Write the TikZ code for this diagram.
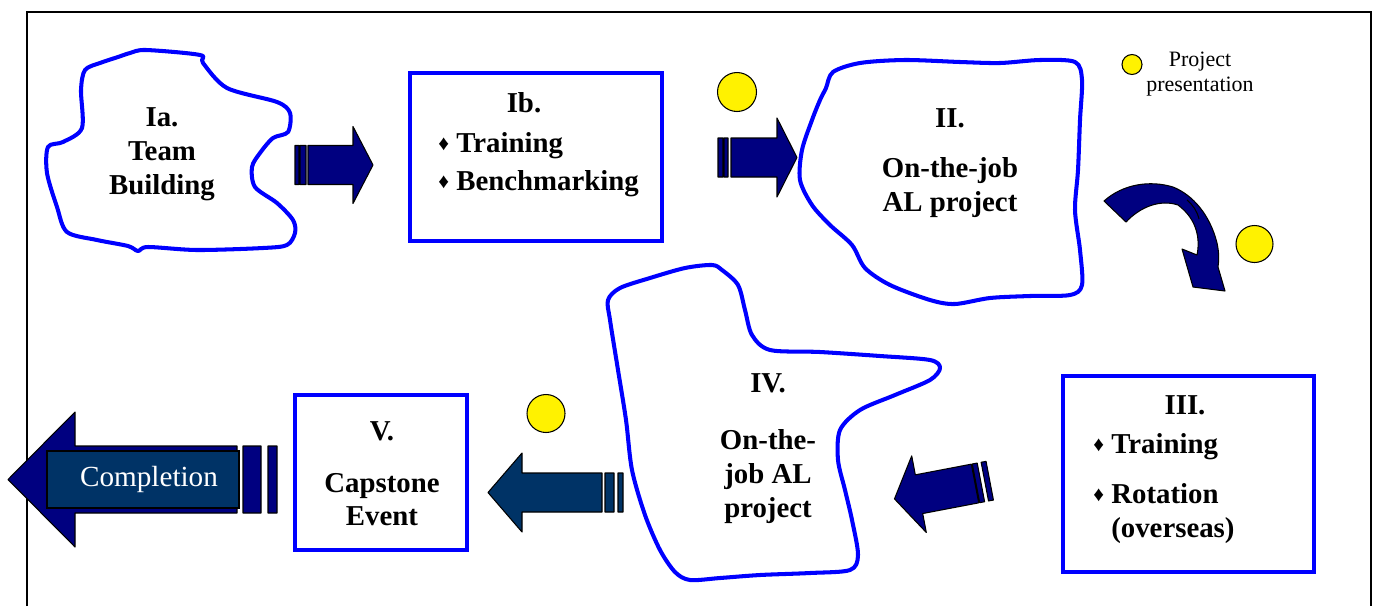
\documentclass[tikz,border=0pt]{standalone}
\usepackage{fontspec}
\setmainfont{Liberation Serif}
\usepackage{tikz}
\usetikzlibrary{calc, positioning, shapes}
\definecolor{navy}{RGB}{0,0,128}
\definecolor{slate}{RGB}{0,51,102}
\tikzstyle{Blob}=[draw=blue, line width=2.3pt, line join=round]
\tikzstyle{Box}=[rectangle, draw=blue, line width=2.3pt, inner sep=0pt]
\tikzstyle{Label}=[font=\bfseries\fontsize{16.4}{19.3}\selectfont, align=center, inner sep=0pt]
\tikzstyle{List}=[Label, align=left]
\tikzstyle{Dot}=[circle, draw, fill=yellow, line width=0.6pt, inner sep=0pt]
\tikzstyle{Arrow}=[draw, line width=0.6pt, line join=round]
\newcommand{\bul}{{\fontsize{12}{12}\selectfont\raisebox{1pt}{♦}} }
\newcommand{\stripedarrow}[9]{%
	\path[Arrow, fill=#9] (-#8,-#2) rectangle (-#7,#2) (-#6,-#2) rectangle (-#5,#2)
	(0,-#2) -- (#1,-#2) -- (#1,-#3) -- ({#1+#4},0) -- (#1,#3) -- (#1,#2) -- (0,#2) -- cycle;}

\begin{document}
\begin{tikzpicture}[x=0.02cm, y=-0.02cm]
		\useasboundingbox (0,0) rectangle (1375,606);
		\draw[line width=1.2pt] (27,606) -- (27,12) -- (1371,12) -- (1371,606);
		\draw[Blob] plot[smooth cycle, tension=0.5] coordinates {(146,50) (200,55) (203,63) (227,88) (277,102) (290,113) (288,132) (273,138) (260,153) (252,167) (255,187) (277,203) (293,220) (295,233) (287,245) (263,248) (197,250) (148,247) (138,251) (128,246) (97,240) (67,232) (57,207) (47,173) (48,147) (63,142) (82,128) (81,90) (85,70) (100,63) (118,57) (130,53)};
		\draw[Blob] plot[smooth cycle, tension=0.5] coordinates {(833,72) (860,63) (905,60) (960,62) (1000,63) (1040,60) (1075,62) (1082,80) (1080,120) (1078,170) (1075,210) (1080,250) (1082,285) (1070,295) (1030,296) (990,298) (955,304) (930,300) (890,285) (865,268) (852,245) (830,225) (812,205) (800,180) (802,150) (812,120) (820,100) (826,88)};
		\draw[Blob] plot[smooth cycle, tension=0.5] coordinates {(685,268) (712,265) (722,270) (738,285) (745,310) (752,335) (770,350) (820,352) (880,356) (930,360) (940,368) (930,380) (895,395) (860,410) (840,430) (838,460) (845,490) (852,520) (858,555) (850,570) (810,573) (760,575) (720,578) (690,580) (675,572) (660,550) (645,515) (632,470) (626,420) (618,370) (610,320) (608,300) (620,288) (650,278)};
		\node[Label] (ia) at (162,154.6) {Ia.\\Team\\Building};
		\node[Label] (ii) at (950,163) {II.\\[9pt]On-the-job\\AL project};
		\node[Label] (iv) at (768,448.6) {IV.\\[13.6pt]On-the-\\job AL\\project};
		\node[Box, minimum width=5.04cm, minimum height=3.36cm] (ib) at (536,157) {};
		\node[Label] (ibtitle) at (524,102.5) {Ib.};
		\node[List, anchor=west] (iblist) at (438,164.6) {\bul Training\\[2.3pt]\bul Benchmarking};
		\node[Box, minimum width=5.02cm, minimum height=3.92cm] (iii) at (1188.5,474) {};
		\node[Label] (iiititle) at (1185,405.5) {III.};
		\node[List, anchor=west] (iiilist) at (1093,488.5) {\bul Training\\[9pt]\bul Rotation\\\phantom{\bul}(overseas)};
		\node[Box, minimum width=3.44cm, minimum height=3.1cm] (v) at (381,472.5) {};
		\node[Label] (vtext) at (382,474) {V.\\[10pt]Capstone\\Event};
		\begin{scope}[shift={(308,165)}]
			\stripedarrow{45}{19.5}{38.5}{20}{2}{8}{9}{13}{navy}
		\end{scope}
		\begin{scope}[shift={(731,157.5)}]
			\stripedarrow{46}{19.5}{39.5}{20}{3}{7}{8}{13}{navy}
		\end{scope}
		\begin{scope}[shift={(975,483.5)}, rotate=190.8]
			\stripedarrow{57}{19.7}{39}{25}{1}{6}{10}{15}{navy}
		\end{scope}
		\begin{scope}[shift={(602,492.5)}, rotate=180]
			\stripedarrow{80}{19.5}{39.5}{34}{3}{12}{16}{21}{slate}
		\end{scope}
		\begin{scope}[shift={(237,479.5)}, rotate=180]
			\stripedarrow{162}{33.5}{67.5}{67}{6}{24}{31}{40}{navy}
		\end{scope}
		\node[draw, line width=1pt, fill=slate, text=white, font=\fontsize{16.6}{20}\selectfont, minimum width=3.84cm, minimum height=1.14cm] (done) at (143,479.5) {\hspace{0.24cm}Completion};
		\path[Arrow, fill=navy] (1104,201) .. controls (1123,184) and (1150,180) .. (1173,187) .. controls (1193,195) and (1210,215) .. (1217,243) .. controls (1219,252) and (1219,260) .. (1218,267) -- (1225,291) -- (1193,287) -- (1182,249) -- (1197,255) .. controls (1200,240) and (1198,220) .. (1178,205) .. controls (1160,199) and (1140,207) .. (1126,222) -- cycle;
		\draw[line width=0.6pt] (1187,200) .. controls (1193,205) and (1197,211) .. (1199,219);
		\node[Dot, minimum size=0.4cm] (key) at (1132,64.5) {};
		\node[font=\fontsize{12.5}{14.2}\selectfont, align=center, inner sep=0pt] (keytext) at (1200,74.5) {Project\\presentation};
		\node[Dot, minimum size=0.78cm] (p1) at (737,92) {};
		\node[Dot, minimum size=0.74cm] (p2) at (1254.5,244) {};
		\node[Dot, minimum size=0.76cm] (p3) at (546,413.5) {};
\end{tikzpicture}
\end{document}
